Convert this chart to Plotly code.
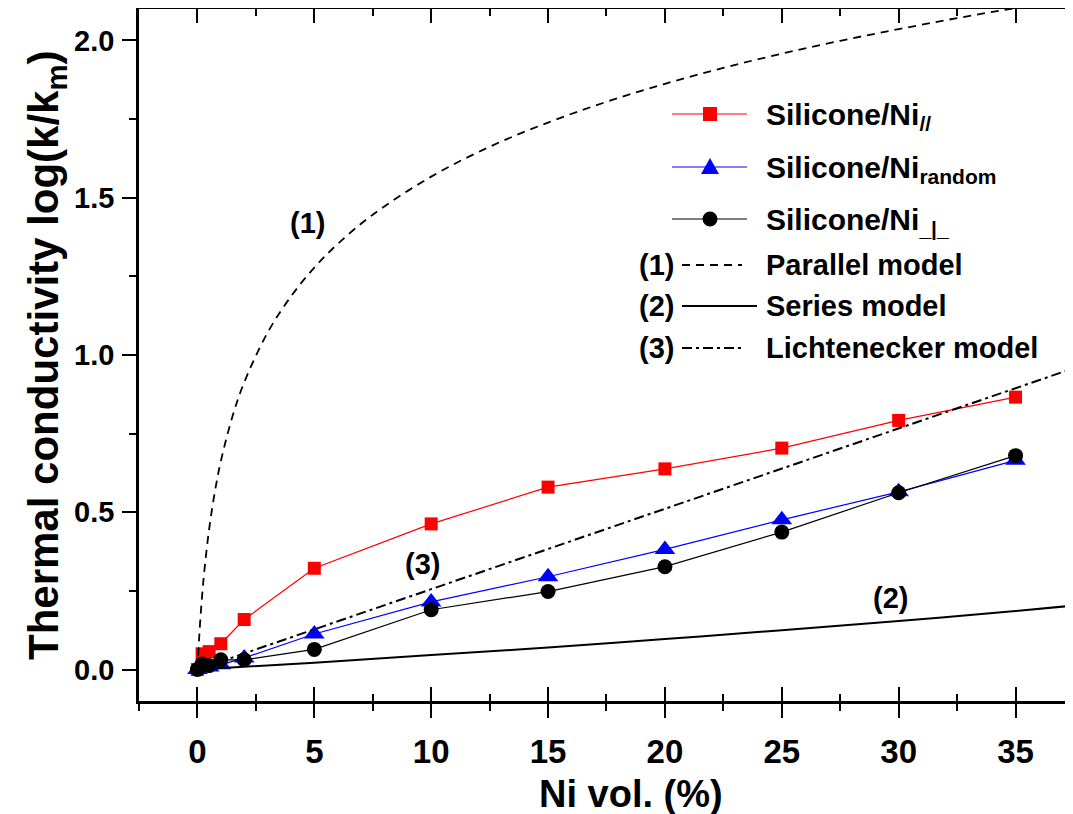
import plotly.graph_objects as go

# ---------------- data ----------------
x_exp = [0, 0.2, 0.5, 1, 2, 5, 10, 15, 20, 25, 30, 35]
ni_parallel = [0.0, 0.050, 0.057, 0.082, 0.159, 0.322, 0.463, 0.580, 0.638, 0.704, 0.792, 0.866]
ni_random = [0.0, 0.005, 0.008, 0.015, 0.037, 0.113, 0.215, 0.295, 0.382, 0.476, 0.565, 0.665]
ni_perp = [0.0, 0.018, 0.013, 0.031, 0.031, 0.064, 0.190, 0.248, 0.327, 0.437, 0.562, 0.680]

par_x = [0, 0.1, 0.2, 0.3, 0.5, 0.75, 1, 1.5, 2, 3, 4, 5, 6, 7.5, 10, 12.5, 15,
         17.5, 20, 22.5, 25, 27.5, 30, 32.5, 35, 37.5, 38]
par_y = [0.0, 0.133, 0.235, 0.317, 0.446, 0.567, 0.662, 0.805, 0.913, 1.071, 1.186,
         1.278, 1.353, 1.446, 1.567, 1.662, 1.739, 1.805, 1.862, 1.913, 1.958, 1.999,
         2.036, 2.071, 2.103, 2.132, 2.138]

ser_x = [0, 5, 10, 15, 20, 25, 30, 35, 38]
ser_y = [0.0, 0.022, 0.046, 0.070, 0.097, 0.125, 0.154, 0.186, 0.207]

lic_x = [0, 5, 10, 15, 20, 25, 30, 35, 38]
lic_y = [0.0, 0.128, 0.256, 0.383, 0.511, 0.639, 0.767, 0.895, 0.971]

x_ticks = [0, 5, 10, 15, 20, 25, 30, 35]
y_ticks = [0.0, 0.5, 1.0, 1.5, 2.0]
y_tick_text = ["0.0", "0.5", "1.0", "1.5", "2.0"]

# ---------------- layout constants ----------------
W, H = 1073, 814
OFF = 8                      # page body margin of the html page
L, R, T, B = 131, 1073, 1, 693  # plot area in figure pixels
FONT = "Liberation Sans, Arial, sans-serif"


def px(xp):
    """page x pixel -> paper fraction"""
    return (xp - OFF - L) / (R - L)


def py(yp):
    """page y pixel -> paper fraction"""
    return (B - (yp - OFF)) / (B - T)


fig = go.Figure()

fig.add_trace(go.Scatter(x=x_exp, y=ni_parallel, mode="lines+markers",
                         line=dict(color="#ff0000", width=1.2),
                         marker=dict(symbol="square", size=13, color="#ff0000"),
                         showlegend=False))
fig.add_trace(go.Scatter(x=x_exp, y=ni_random, mode="lines+markers",
                         line=dict(color="#0000ff", width=1.2),
                         marker=dict(symbol="triangle-up", size=18, color="#0000ff"),
                         showlegend=False))
fig.add_trace(go.Scatter(x=x_exp, y=ni_perp, mode="lines+markers",
                         line=dict(color="#000000", width=1.2),
                         marker=dict(symbol="circle", size=15, color="#000000"),
                         showlegend=False))
fig.add_trace(go.Scatter(x=par_x, y=par_y, mode="lines",
                         line=dict(color="black", width=1.8, dash="8px,6px", shape="spline"),
                         showlegend=False))
fig.add_trace(go.Scatter(x=ser_x, y=ser_y, mode="lines",
                         line=dict(color="black", width=2, shape="spline"),
                         showlegend=False))
fig.add_trace(go.Scatter(x=lic_x, y=lic_y, mode="lines",
                         line=dict(color="black", width=2, dash="10px,4px,3px,4px"),
                         showlegend=False))
# dummy trace for the overlay axis carrying inner / mirrored ticks
fig.add_trace(go.Scatter(x=[None], y=[None], xaxis="x2", yaxis="y",
                         showlegend=False, hoverinfo="skip"))

# ---------------- legend (drawn by hand) ----------------
shapes = []
annotations = []

rows = [
    (114, "#ff0000", "square", "Silicone/Ni<sub>//</sub>"),
    (167, "#0000ff", "triangle", "Silicone/Ni<sub>random</sub>"),
    (219, "#000000", "circle", "Silicone/Ni<sub>_|_</sub>"),
]
for yy, col, sym, label in rows:
    shapes.append(dict(type="line", xref="paper", yref="paper",
                       x0=px(672), x1=px(747), y0=py(yy), y1=py(yy),
                       line=dict(color=col, width=1.2)))
    cx = 710
    if sym == "square":
        shapes.append(dict(type="rect", xref="paper", yref="paper",
                           x0=px(cx - 7), x1=px(cx + 7), y0=py(yy + 7), y1=py(yy - 7),
                           fillcolor=col, line=dict(width=0)))
    elif sym == "circle":
        shapes.append(dict(type="circle", xref="paper", yref="paper",
                           x0=px(cx - 7.5), x1=px(cx + 7.5), y0=py(yy + 7.5), y1=py(yy - 7.5),
                           fillcolor=col, line=dict(width=0)))
    else:
        shapes.append(dict(type="path", xref="paper", yref="paper",
                           path="M {} {} L {} {} L {} {} Z".format(
                               px(cx - 9), py(yy + 7), px(cx + 9), py(yy + 7), px(cx), py(yy - 9)),
                           fillcolor=col, line=dict(width=0)))
    annotations.append(dict(xref="paper", yref="paper", x=px(764), y=py(yy + 3),
                            xanchor="left", yanchor="middle", showarrow=False,
                            text=label, font=dict(family=FONT, size=30, color="black", weight="bold")))

model_rows = [
    (265, "(1)", "Parallel model", "8px,6px", 742),
    (306, "(2)", "Series model", "solid", 757),
    (348, "(3)", "Lichtenecker model", "10px,4px,3px,4px", 742),
]
for yy, num, label, dash, xend in model_rows:
    shapes.append(dict(type="line", xref="paper", yref="paper",
                       x0=px(682), x1=px(xend), y0=py(yy), y1=py(yy),
                       line=dict(color="black", width=1.8, dash=dash)))
    annotations.append(dict(xref="paper", yref="paper", x=px(656), y=py(yy),
                            xanchor="center", yanchor="middle", showarrow=False,
                            text=num, font=dict(family=FONT, size=29, color="black", weight="bold")))
    annotations.append(dict(xref="paper", yref="paper", x=px(764), y=py(yy),
                            xanchor="left", yanchor="middle", showarrow=False,
                            text=label, font=dict(family=FONT, size=29, color="black", weight="bold")))

# curve labels inside plot
for xv, yv, t in [(4.71, 1.421, "(1)"), (9.63, 0.337, "(3)"), (29.67, 0.226, "(2)")]:
    annotations.append(dict(x=xv, y=yv, xref="x", yref="y", showarrow=False,
                            xanchor="center", yanchor="middle", text=t,
                            font=dict(family=FONT, size=29, color="black", weight="bold")))

# axis titles
annotations.append(dict(xref="paper", yref="paper", x=px(631), y=py(794),
                        xanchor="center", yanchor="middle", showarrow=False,
                        text="Ni vol. (%)",
                        font=dict(family=FONT, size=38, color="black", weight="bold")))
annotations.append(dict(xref="paper", yref="paper", x=px(46), y=py(355),
                        xanchor="center", yanchor="middle", showarrow=False, textangle=-90,
                        text="Thermal conductivity log(k/k<sub>m</sub>)",
                        font=dict(family=FONT, size=42, color="black", weight="bold")))

XR = [-2.5, 37.8]
YR = [-0.1, 2.1]

fig.update_layout(
    width=W, height=H,
    margin=dict(l=L, r=W - R, t=T, b=H - B, autoexpand=False),
    paper_bgcolor="white", plot_bgcolor="white",
    showlegend=False,
    shapes=shapes, annotations=annotations,
    xaxis=dict(range=XR, showgrid=False, zeroline=False, showline=True,
               linecolor="black", linewidth=2.5,
               tickvals=x_ticks, ticks="outside", ticklen=14, tickwidth=2, tickcolor="black",
               minor=dict(tick0=-2.5, dtick=2.5, ticks="outside", ticklen=7,
                          tickwidth=2, tickcolor="black"),
               tickfont=dict(family=FONT, size=33, color="black", weight="bold"),
               ticklabelstandoff=6),
    xaxis2=dict(range=XR, overlaying="x", side="bottom", anchor="y",
                showgrid=False, zeroline=False, showline=True, mirror="ticks",
                linecolor="black", linewidth=2.5, showticklabels=False,
                tickvals=x_ticks, ticks="inside", ticklen=14, tickwidth=2, tickcolor="black",
                minor=dict(tick0=-2.5, dtick=2.5, ticks="inside", ticklen=7,
                           tickwidth=2, tickcolor="black")),
    yaxis=dict(range=YR, showgrid=False, zeroline=False, showline=True,
               linecolor="black", linewidth=2.5,
               tickvals=y_ticks, ticktext=y_tick_text,
               ticks="outside", ticklen=14, tickwidth=2, tickcolor="black",
               minor=dict(tick0=-0.25, dtick=0.25, ticks="outside", ticklen=7,
                          tickwidth=2, tickcolor="black"),
               tickfont=dict(family=FONT, size=29, color="black", weight="bold"),
               ticklabelstandoff=2),
)

fig.write_html("out.html")
